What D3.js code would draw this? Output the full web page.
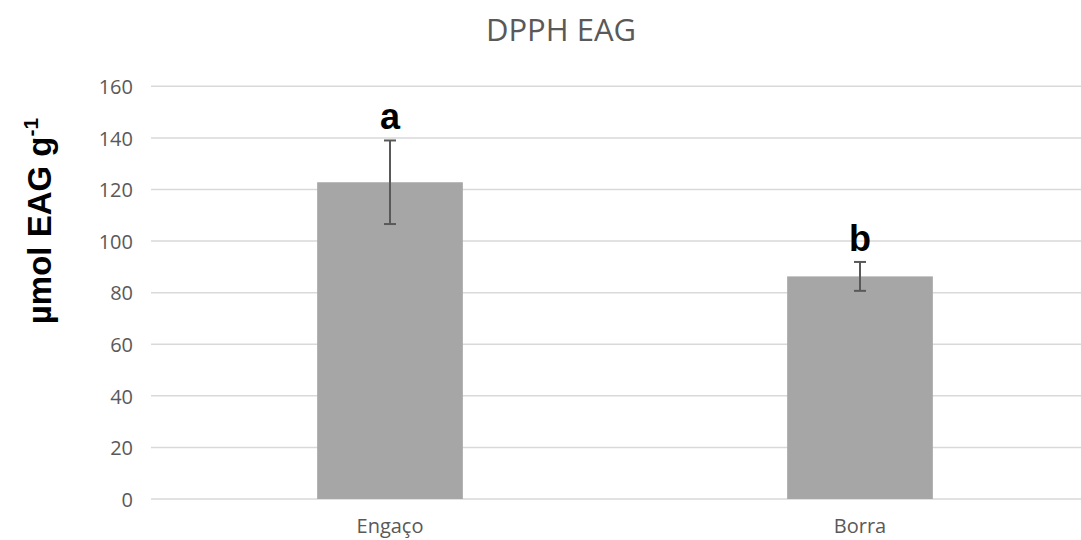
<!DOCTYPE html>
<html><head><meta charset="utf-8">
<script src="https://cdn.jsdelivr.net/npm/d3@7/dist/d3.min.js"></script>
<style>body{margin:0;background:#fff}</style>
</head><body>
<svg id="c" width="1081" height="540"></svg>
<script>
const categories = ["Engaço", "Borra"];
const values = [122.8, 86.3];
const errors = [16.2, 5.6];
const letters = ["a", "b"];
const yTicks = [0, 20, 40, 60, 80, 100, 120, 140, 160];

const svg = d3.select("#c");
const W = 1081, H = 540;
const y = d3.scaleLinear().domain([0, 160]).range([499, 86.3]);
const x = d3.scaleBand().domain(categories).range([155, 1095]).paddingInner(0.69).paddingOuter(0.345);
const labelFont = "'Open Sans', 'Noto Sans', sans-serif";

// gridlines
svg.append("g").selectAll("line").data(yTicks).join("line")
  .attr("x1", 151).attr("x2", W)
  .attr("y1", d => y(d)).attr("y2", d => y(d))
  .attr("stroke", "#d9d9d9").attr("stroke-width", 1.5);

// y axis labels
const yAxis = d3.axisLeft(y).tickValues(yTicks).tickSize(0).tickPadding(0);
const ga = svg.append("g").attr("transform", "translate(133,0)").call(yAxis);
ga.select(".domain").remove();
ga.selectAll("text").attr("fill", "#595959").attr("dy", "0.36em").style("font-family", labelFont).style("font-size", "20px");

// bars
svg.append("g").selectAll("rect").data(categories).join("rect")
  .attr("x", d => x(d)).attr("width", x.bandwidth())
  .attr("y", (d, i) => y(values[i])).attr("height", (d, i) => y(0) - y(values[i]))
  .attr("fill", "#a6a6a6");

// error bars
const eg = svg.append("g").attr("stroke", "#595959").attr("stroke-width", 2);
categories.forEach((c, i) => {
  const cx = x(c) + x.bandwidth() / 2;
  eg.append("line").attr("x1", cx).attr("x2", cx).attr("y1", y(values[i] + errors[i])).attr("y2", y(values[i] - errors[i]));
  eg.append("line").attr("x1", cx - 6).attr("x2", cx + 6).attr("y1", y(values[i] + errors[i])).attr("y2", y(values[i] + errors[i]));
  eg.append("line").attr("x1", cx - 6).attr("x2", cx + 6).attr("y1", y(values[i] - errors[i])).attr("y2", y(values[i] - errors[i]));
  svg.append("text").attr("x", cx).attr("y", y(values[i] + errors[i]) - 11)
    .attr("text-anchor", "middle").attr("fill", "#000")
    .style("font-family", "'Liberation Sans', Arial, sans-serif").style("font-weight", "bold").style("font-size", "36px")
    .text(letters[i]);
});

// x axis labels
const xAxis = d3.axisBottom(x).tickSize(0).tickPadding(0);
const gx = svg.append("g").attr("transform", "translate(0,533)").call(xAxis);
gx.select(".domain").remove();
gx.selectAll("text").attr("fill", "#595959").attr("dy", "0").style("font-family", labelFont).style("font-size", "20px");

// title
svg.append("text").attr("x", 561).attr("y", 41).attr("text-anchor", "middle")
  .attr("fill", "#595959").style("font-family", labelFont).style("font-size", "31px")
  .text("DPPH EAG");

// y label
const yl = svg.append("text").attr("transform", "translate(51,221) rotate(-90)").attr("text-anchor", "middle")
  .attr("fill", "#000").style("font-family", "'Liberation Sans', Arial, sans-serif").style("font-weight", "bold").style("font-size", "33px");
yl.append("tspan").text("µmol EAG g");
yl.append("tspan").attr("dy", -13).style("font-size", "21px").text("-1");
</script>
</body></html>
